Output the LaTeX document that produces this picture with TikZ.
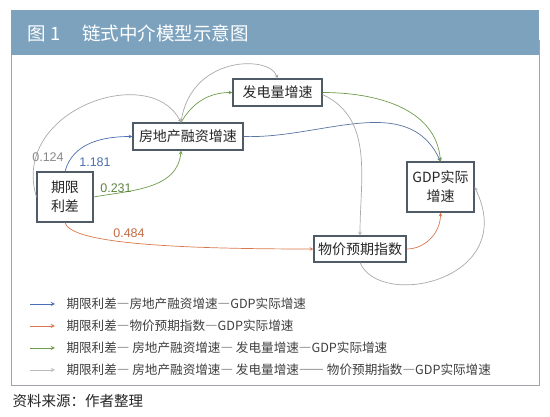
\documentclass[tikz,border=0pt]{standalone}
\usepackage{fontspec}
\setmainfont{Noto Sans CJK SC}
\newfontfamily\numfont{Liberation Sans}
\newcommand\cdash{{\addfontfeature{RawFeature=+fwid}—}}
\usetikzlibrary{positioning}
\definecolor{bannerblue}{HTML}{7CA2BE}
\definecolor{framegray}{HTML}{A0A4A8}
\definecolor{boxgray}{HTML}{505B68}
\definecolor{pathblue}{HTML}{4A6FB0}
\definecolor{pathorange}{HTML}{D9784C}
\definecolor{pathgreen}{HTML}{6E9C4C}
\definecolor{pathgray}{HTML}{AAAAAA}

\begin{document}
\begin{tikzpicture}[x=1pt,y=1pt,
  box/.style={draw=boxgray,line width=1.1pt,fill=white,inner sep=0pt,align=center,
    text=black!85,font=\fontsize{14}{19}\selectfont},
  link/.style={line width=0.7pt,-stealth},
  coef/.style={font=\numfont\fontsize{12.5}{14}\selectfont},
  legtext/.style={anchor=west,font=\fontsize{12.6}{14}\selectfont,text=black!75}]
\useasboundingbox (0,0) rectangle (550,-417);
\fill[white] (0,0) rectangle (550,-417);
\draw[framegray,line width=0.8pt] (11,-40) rectangle (539,-385);
\fill[bannerblue] (11,-10) rectangle (539,-55);
\node[anchor=west,text=white,font=\fontsize{18.5}{20}\selectfont] (title) at (24,-33)
  {图 1\hspace{22pt}链式中介模型示意图};

\node[box,minimum width=56,minimum height=50] (lim) at (65,-197) {期限\\利差};
\node[box,minimum width=110,minimum height=27] (fdc) at (188,-136.5) {房地产融资增速};
\node[box,minimum width=89,minimum height=27] (fd) at (277.5,-92.5) {发电量增速};
\node[box,minimum width=67,minimum height=50] (gdp) at (440.5,-187) {GDP实际\\增速};
\node[box,minimum width=92,minimum height=26] (wj) at (360,-249) {物价预期指数};

\draw[link,pathblue] (lim.north) to[out=75,in=180] (fdc.west);
\draw[link,pathgreen] (lim.east) to[out=10,in=-95] ([xshift=-7pt]fdc.south);
\draw[link,pathgray] (lim.west) .. controls (10,-110) and (150,-62) .. ([xshift=-7pt]fdc.north);
\draw[link,pathorange] (lim.south) .. controls (70,-242) and (160,-249) .. (wj.west);
\draw[link,pathgreen] ([xshift=-7pt]fdc.north) to[out=60,in=180] (fd.west);
\draw[link,pathgray] ([xshift=-7pt]fdc.north) .. controls (190,-55) and (270,-55) .. (fd.north);
\draw[link,pathblue!70!gray] (fdc.east) to[out=-2,in=115] (gdp.north);
\draw[link,pathgreen] (fd.east) to[out=0,in=95] (gdp.north);
\draw[link,pathgray] ([yshift=-2pt]fd.east) to[out=-25,in=90] (wj.north);
\draw[link,pathorange] (wj.east) to[out=0,in=-90] (gdp.south);
\draw[link,pathgray] (wj.south) .. controls (380,-310) and (520,-280) .. (gdp.east);

\node[coef,text=pathgray!80!black] (c1) at (48,-157) {0.124};
\node[coef,text=pathblue] (c2) at (95,-162) {1.181};
\node[coef,text=pathgreen!85!black] (c3) at (116,-188) {0.231};
\node[coef,text=pathorange!90!black] (c4) at (129,-233) {0.484};

\draw[pathblue,-stealth,line width=0.9pt] (30,-304) -- (55,-304);
\draw[pathorange,-stealth,line width=0.9pt] (30,-326) -- (55,-326);
\draw[pathgreen,-stealth,line width=0.9pt] (30,-348) -- (55,-348);
\draw[pathgray!80,-stealth,line width=0.9pt] (30,-370) -- (55,-370);
\node[legtext] (l1) at (63,-304) {期限利差\cdash 房地产融资增速\cdash GDP实际增速};
\node[legtext] (l2) at (63,-326) {期限利差\cdash 物价预期指数\cdash GDP实际增速};
\node[legtext] (l3) at (63,-348) {期限利差\cdash\ 房地产融资增速\cdash\ 发电量增速\cdash GDP实际增速};
\node[legtext] (l4) at (63,-370) {期限利差\cdash\ 房地产融资增速\cdash\ 发电量增速\cdash\cdash\ 物价预期指数\cdash GDP实际增速};

\node[anchor=west,font=\fontsize{14.5}{16}\selectfont,text=black!85] (src) at (9,-401) {资料来源：作者整理};
\end{tikzpicture}
\end{document}
